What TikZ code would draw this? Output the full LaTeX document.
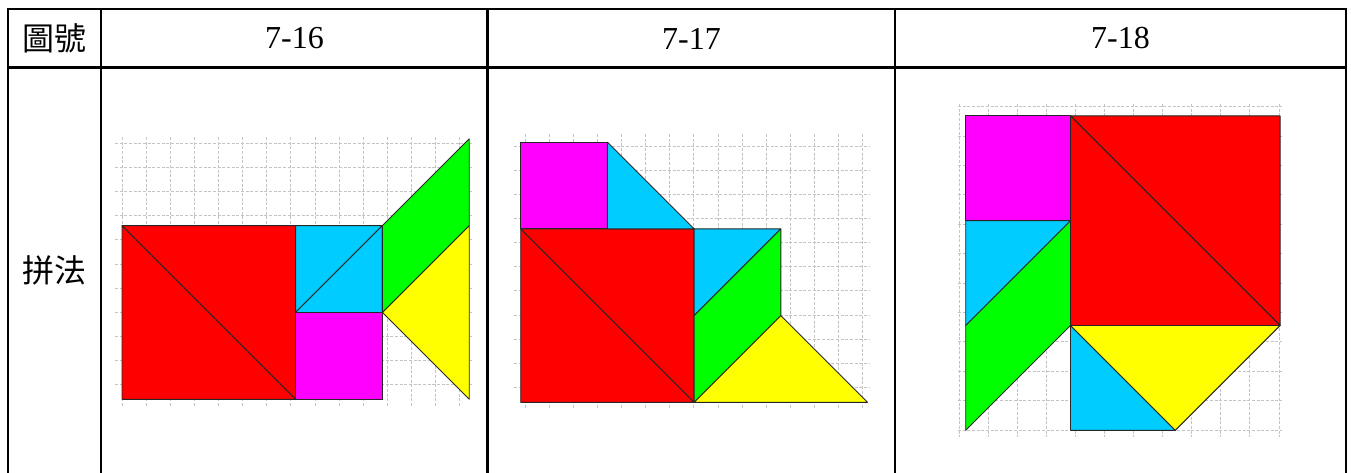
\documentclass[tikz,border=0pt]{standalone}
\usepackage{fontspec}
\setmainfont{Liberation Serif}
\newfontfamily\cjk{Noto Sans CJK TC}
\definecolor{tred}{HTML}{FF0000}
\definecolor{tmag}{HTML}{FF00FF}
\definecolor{tcyan}{HTML}{00CCFF}
\definecolor{tgreen}{HTML}{00FF00}
\definecolor{tyellow}{HTML}{FFFF00}
\definecolor{gridgray}{HTML}{C4C4C4}
\tikzset{
  tabline/.style={line width=2.3pt*0.75, black},
  gridline/.style={draw=gridgray, line width=0.9pt*0.75, dash pattern=on 2.2pt off 1.3pt},
  piece/.style={draw=black!85, line width=0.9pt*0.75, line join=round},
  celltext/.style={font=\fontsize{24}{28}\selectfont, inner sep=0pt}
}
\begin{document}
\begin{tikzpicture}[x=0.75pt,y=-0.75pt]
\useasboundingbox (0,0) rectangle (1351,473);
\fill[white] (0,0) rectangle (1351,473);

% ---------- grids ----------
% panel 1
\foreach \k in {0,...,14} \draw[gridline] ({122+24.12*\k},137) -- ({122+24.12*\k},407);
\foreach \k in {0,...,10} \draw[gridline] (115,{143.3+24.15*\k}) -- (472,{143.3+24.15*\k});
% panel 2
\foreach \k in {0,...,14} \draw[gridline] ({525+24.12*\k},134) -- ({525+24.12*\k},408);
\foreach \k in {0,...,10} \draw[gridline] (514,{146+24.15*\k}) -- (869,{146+24.15*\k});
% panel 3
\foreach \k in {0,...,11} \draw[gridline] ({959.3+29.06*\k},104) -- ({959.3+29.06*\k},437);
\foreach \k in {0,...,11} \draw[gridline] (958,{106.7+29.4*\k}) -- (1282,{106.7+29.4*\k});

% ---------- panel 1 : 7-16 ----------
\begin{scope}[shift={(122,399.3)}, x=86.8*0.75pt, y=86.8*0.75pt]
  \filldraw[piece, fill=tred] (0,2) -- (2,2) -- (2,0) -- cycle;
  \filldraw[piece, fill=tred] (0,2) -- (0,0) -- (2,0) -- cycle;
  \filldraw[piece, fill=tcyan] (2,1) -- (2,2) -- (3,2) -- cycle;
  \filldraw[piece, fill=tcyan] (2,1) -- (3,1) -- (3,2) -- cycle;
  \filldraw[piece, fill=tmag] (2,0) rectangle (3,1);
  \filldraw[piece, fill=tgreen] (3,1) -- (3,2) -- (4,3) -- (4,2) -- cycle;
  \filldraw[piece, fill=tyellow] (3,1) -- (4,2) -- (4,0) -- cycle;
\end{scope}

% ---------- panel 2 : 7-17 ----------
\begin{scope}[shift={(520.7,402.3)}, x=86.7*0.75pt, y=86.7*0.75pt]
  \filldraw[piece, fill=tred] (0,2) -- (2,2) -- (2,0) -- cycle;
  \filldraw[piece, fill=tred] (0,2) -- (0,0) -- (2,0) -- cycle;
  \filldraw[piece, fill=tmag] (0,2) rectangle (1,3);
  \filldraw[piece, fill=tcyan] (1,2) -- (1,3) -- (2,2) -- cycle;
  \filldraw[piece, fill=tcyan] (2,2) -- (3,2) -- (2,1) -- cycle;
  \filldraw[piece, fill=tgreen] (2,1) -- (3,2) -- (3,1) -- (2,0) -- cycle;
  \filldraw[piece, fill=tyellow] (2,0) -- (3,1) -- (4,0) -- cycle;
\end{scope}

% ---------- panel 3 : 7-18 ----------
\begin{scope}[shift={(965.7,430.3)}, x=104.8*0.75pt, y=104.8*0.75pt]
  \filldraw[piece, fill=tmag] (0,2) rectangle (1,3);
  \filldraw[piece, fill=tred] (1,3) -- (3,3) -- (3,1) -- cycle;
  \filldraw[piece, fill=tred] (1,3) -- (1,1) -- (3,1) -- cycle;
  \filldraw[piece, fill=tcyan] (0,2) -- (1,2) -- (0,1) -- cycle;
  \filldraw[piece, fill=tgreen] (0,1) -- (1,2) -- (1,1) -- (0,0) -- cycle;
  \filldraw[piece, fill=tcyan] (1,1) -- (1,0) -- (2,0) -- cycle;
  \filldraw[piece, fill=tyellow] (1,1) -- (3,1) -- (2,0) -- cycle;
\end{scope}

% ---------- table ----------
\draw[tabline] (8,473) -- (8,9) -- (1346,9) -- (1346,473);
\draw[tabline] (8,67.5) -- (1346,67.5);
\draw[tabline] (101,9) -- (101,473);
\draw[tabline] (487.5,9) -- (487.5,473);
\draw[tabline] (895,9) -- (895,473);

% ---------- texts ----------
\node[celltext] (h0) at (54.5,38) {\cjk 圖號};
\node[celltext] (h1) at (294.5,38.5) {7-16};
\node[celltext] (h2) at (691.5,38.5) {7-17};
\node[celltext] (h3) at (1120.5,38.5) {7-18};
\node[celltext] (r0) at (54.5,270) {\cjk 拼法};
\end{tikzpicture}
\end{document}
